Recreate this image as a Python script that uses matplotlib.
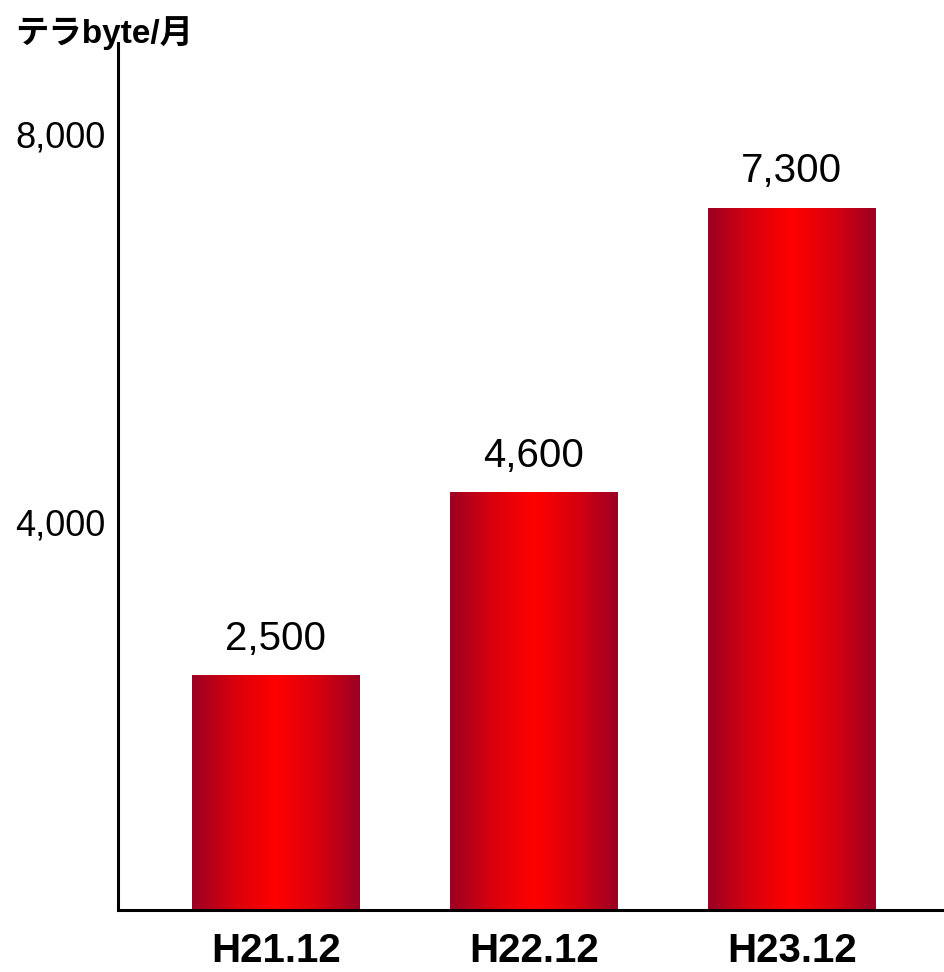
import numpy as np
import matplotlib
matplotlib.use("Agg")
import matplotlib.pyplot as plt
from matplotlib.colors import LinearSegmentedColormap
from matplotlib.patches import Rectangle

# data
periods = ["H21.12", "H22.12", "H23.12"]
heights = [2420, 4310, 7240]          # bar heights as drawn
value_labels = ["2,500", "4,600", "7,300"]
yticks = [4000, 8000]
ytick_labels = ["4,000", "8,000"]
unit = "テラbyte/月"

plt.rcParams['font.family'] = ['Liberation Sans', 'Noto Sans CJK JP', 'DejaVu Sans']

fig = plt.figure(figsize=(9.44, 9.72), dpi=100)
ax = fig.add_axes([118/944, 62/972, 826/944, 867/972])

cmap = LinearSegmentedColormap.from_list(
    "redbar", ["#9c0024", "#d8000e", "#ff0000", "#d8000e", "#9c0024"])
grad = np.linspace(0, 1, 256).reshape(1, -1)

x = np.arange(len(periods))
w = 0.65
for xi, h, lab in zip(x, heights, value_labels):
    rect = Rectangle((xi - w/2, 0), w, h, facecolor="none", edgecolor="none")
    ax.add_patch(rect)
    im = ax.imshow(grad, cmap=cmap, aspect="auto",
                   extent=(xi - w/2, xi + w/2, 0, h), zorder=2)
    im.set_clip_path(rect)
    ax.text(xi, h + 180, lab, ha="center", va="bottom", fontsize=29,
            color="black")

ax.set_xlim(-0.612, 2.59)
ax.set_ylim(0, 8940)

ax.set_xticks(x)
ax.set_xticklabels(periods, fontsize=29, fontweight="bold")
ax.set_yticks(yticks)
ax.set_yticklabels(ytick_labels, fontsize=26)
ax.tick_params(axis="both", length=0)
ax.tick_params(axis="x", pad=16)
ax.tick_params(axis="y", pad=9)

for s in ["top", "right"]:
    ax.spines[s].set_visible(False)
ax.spines["left"].set_linewidth(2.2)
ax.spines["bottom"].set_linewidth(2.2)

fig.text(15/944, 1 - 33/972, unit, fontsize=24, fontweight="bold",
         va="center", ha="left")

fig.savefig("out.png", dpi=100)
